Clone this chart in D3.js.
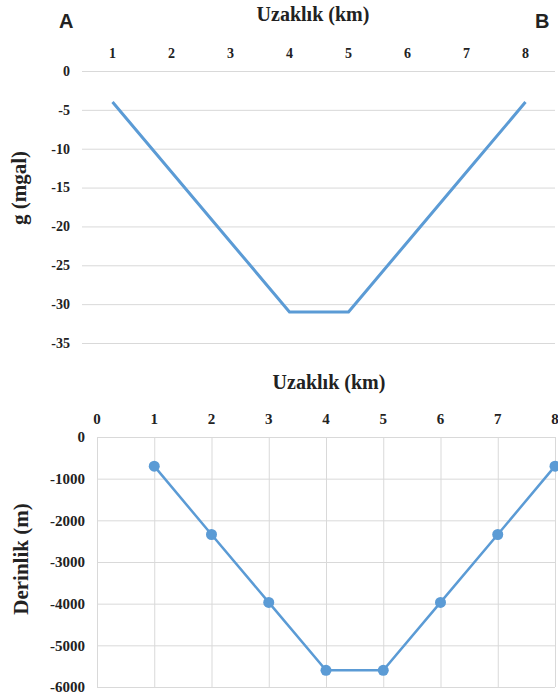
<!DOCTYPE html>
<html lang="en">
	<head>
		<meta charset="UTF-8" />
		<title>Uzaklık</title>
		<style>
			body { margin: 0; background: #fff; }
			text { font-family: 'Liberation Serif', 'Times New Roman', serif; font-weight: bold; fill: #222; }
			.grid line { stroke: #d9d9d9; stroke-width: 1; }
			.grid .domain { display: none; }
		</style>
	</head>
	<body>
		<svg id="svg" width="558" height="697"></svg>
		<script src="https://d3js.org/d3.v7.min.js"></script>
		<script>
			// top chart: gravity anomaly
			const topCats = ['1', '2', '3', '4', '5', '6', '7', '8'];
			const gValues = [-4, -13, -22, -31, -31, -22, -13, -4];
			const gTicks = [0, -5, -10, -15, -20, -25, -30, -35];

			// bottom chart: depth
			const distKm = [1, 2, 3, 4, 5, 6, 7, 8];
			const depthM = [-700, -2340, -3970, -5600, -5600, -3970, -2340, -700];
			const xTicks = [0, 1, 2, 3, 4, 5, 6, 7, 8];
			const depthTicks = [0, -1000, -2000, -3000, -4000, -5000, -6000];

			const blue = '#5b9bd5';
			const svg = d3.select('#svg');

			// ---- top ----
			const x1 = d3.scalePoint().domain(topCats).range([83, 555]).padding(0.5);
			const y1 = d3.scaleLinear().domain([-35, 0]).range([343, 71]);

			svg.append('g')
				.attr('class', 'grid')
				.attr('transform', 'translate(82,0)')
				.call(d3.axisLeft(y1).tickValues(gTicks).tickSize(-473).tickFormat(''));

			svg.append('g')
				.selectAll('text')
				.data(gTicks)
				.enter()
				.append('text')
				.attr('x', 70)
				.attr('y', (d) => y1(d))
				.attr('dy', '0.35em')
				.attr('text-anchor', 'end')
				.style('font-size', '14px')
				.text((d) => d);

			svg.append('g')
				.selectAll('text')
				.data(topCats)
				.enter()
				.append('text')
				.attr('x', (d) => x1(d))
				.attr('y', 53)
				.attr('dy', '0.35em')
				.attr('text-anchor', 'middle')
				.style('font-size', '14px')
				.text((d) => d);

			svg.append('path')
				.datum(gValues)
				.attr('fill', 'none')
				.attr('stroke', blue)
				.attr('stroke-width', 3)
				.attr('stroke-linejoin', 'round')
				.attr('d', d3.line().x((d, i) => x1(topCats[i])).y((d) => y1(d)));

			svg.append('text')
				.attr('x', 313)
				.attr('y', 21)
				.attr('text-anchor', 'middle')
				.style('font-size', '20px')
				.text('Uzaklık (km)');

			svg.append('text')
				.attr('transform', 'translate(26,188) rotate(-90)')
				.attr('text-anchor', 'middle')
				.style('font-size', '21px')
				.text('g (mgal)');

			svg.append('text')
				.attr('x', 59)
				.attr('y', 28)
				.style('font-family', "'Liberation Sans', Arial, sans-serif")
				.style('font-size', '20px')
				.text('A');

			svg.append('text')
				.attr('x', 535)
				.attr('y', 28)
				.style('font-family', "'Liberation Sans', Arial, sans-serif")
				.style('font-size', '20px')
				.text('B');

			// ---- bottom ----
			const x2 = d3.scaleLinear().domain([0, 8]).range([97, 555]);
			const y2 = d3.scaleLinear().domain([-6000, 0]).range([687, 437]);

			svg.append('g')
				.attr('class', 'grid')
				.attr('transform', 'translate(97,0)')
				.call(d3.axisLeft(y2).tickValues(depthTicks).tickSize(-458).tickFormat(''));

			svg.append('g')
				.attr('class', 'grid')
				.attr('transform', 'translate(0,437)')
				.call(d3.axisBottom(x2).tickValues(xTicks).tickSize(250).tickFormat(''));

			svg.append('g')
				.selectAll('text')
				.data(depthTicks)
				.enter()
				.append('text')
				.attr('x', 85)
				.attr('y', (d) => y2(d))
				.attr('dy', '0.35em')
				.attr('text-anchor', 'end')
				.style('font-size', '15px')
				.text((d) => d);

			svg.append('g')
				.selectAll('text')
				.data(xTicks)
				.enter()
				.append('text')
				.attr('x', (d) => x2(d))
				.attr('y', 419)
				.attr('dy', '0.35em')
				.attr('text-anchor', 'middle')
				.style('font-size', '15px')
				.text((d) => d);

			svg.append('path')
				.datum(depthM)
				.attr('fill', 'none')
				.attr('stroke', blue)
				.attr('stroke-width', 2.5)
				.attr('d', d3.line().x((d, i) => x2(distKm[i])).y((d) => y2(d)));

			svg.append('g')
				.selectAll('circle')
				.data(depthM)
				.enter()
				.append('circle')
				.attr('cx', (d, i) => x2(distKm[i]))
				.attr('cy', (d) => y2(d))
				.attr('r', 5.5)
				.attr('fill', blue);

			svg.append('text')
				.attr('x', 329)
				.attr('y', 389)
				.attr('text-anchor', 'middle')
				.style('font-size', '20px')
				.text('Uzaklık (km)');

			svg.append('text')
				.attr('transform', 'translate(28,559) rotate(-90)')
				.attr('text-anchor', 'middle')
				.style('font-size', '21px')
				.text('Derinlik (m)');
		</script>
	</body>
</html>
